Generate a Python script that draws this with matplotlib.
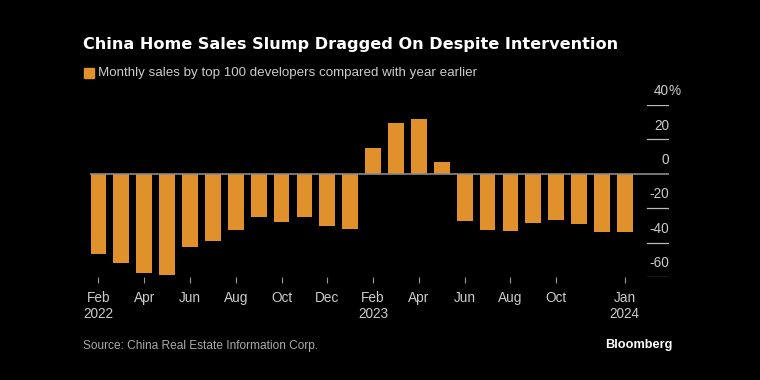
import matplotlib
matplotlib.use("Agg")
import matplotlib.pyplot as plt
import numpy as np

# monthly y/y change in sales, Feb 2022 .. Jan 2024
months = ["Feb 2022", "Mar", "Apr", "May", "Jun", "Jul", "Aug", "Sep", "Oct", "Nov", "Dec",
          "Jan 2023", "Feb 2023", "Mar", "Apr", "May", "Jun", "Jul", "Aug", "Sep", "Oct", "Nov",
          "Dec", "Jan 2024"]
sales_yoy = [-46.5, -52.0, -57.6, -58.8, -42.3, -39.2, -32.5, -24.9, -28.0, -24.9, -30.1, -31.9,
             15.0, 29.4, 31.7, 7.0, -27.4, -32.7, -33.4, -28.8, -27.0, -29.2, -34.0, -33.6]
tick_idx = [0, 2, 4, 6, 8, 10, 12, 14, 16, 18, 20, 23]
tick_labels = ["Feb\n2022", "Apr", "Jun", "Aug", "Oct", "Dec", "Feb\n2023", "Apr", "Jun",
               "Aug", "Oct", "Jan\n2024"]
y_ticks = [40, 20, 0, -20, -40, -60]

BG = "black"
ORANGE = "#E0912B"
SANS = ["Liberation Sans", "DejaVu Sans"]
W, H = 760, 380

fig = plt.figure(figsize=(7.6, 3.8), dpi=100, facecolor=BG)
# axes placed in pixels: left 90, right 669, top 105 (40%), bottom 277 (-60%)
ax = fig.add_axes([90 / W, (H - 277) / H, (669 - 90) / W, (277 - 105) / H])
ax.set_facecolor(BG)

x = np.arange(len(sales_yoy))
ax.bar(x, sales_yoy, width=0.69, color=ORANGE, zorder=2)
ax.set_xlim(-0.37, 24.93)
ax.set_ylim(-60, 40)

ax.axhline(0, color="#8a8a8a", lw=1.2, zorder=3)
gx0 = (647 - 90) / (669 - 90)
for v in y_ticks:
    if v != 0:
        ax.axhline(v, xmin=gx0, xmax=1, color="#bbbbbb", lw=0.9, zorder=1)
    ax.text(24.93, v + 4, str(v), ha="right", va="bottom", color="#cccccc",
            fontsize=9.8, family=SANS)
ax.text(24.90, 44, "%", ha="left", va="bottom", color="#cccccc", fontsize=9.8, family=SANS)

for s in ax.spines.values():
    s.set_visible(False)
ax.set_yticks([])
ax.set_xticks(tick_idx)
ax.set_xticklabels(tick_labels, family=SANS)
ax.tick_params(axis="x", colors="#cccccc", labelsize=9.8, length=4, width=0.8, pad=6)
ax.tick_params(axis="x", color="#999999")

fig.text(83 / W, 1 - 45 / H, "China Home Sales Slump Dragged On Despite Intervention",
         color="white", fontsize=11.6, fontweight="bold", va="center", ha="left")
fig.patches.append(plt.Rectangle((84 / W, 1 - 78 / H), 10 / W, 10 / H, color=ORANGE,
                                 transform=fig.transFigure, figure=fig))
fig.text(98 / W, 1 - 73 / H, "Monthly sales by top 100 developers compared with year earlier",
         color="#cccccc", fontsize=9.6, va="center", ha="left", family=SANS)
fig.text(83 / W, 1 - 346 / H, "Source: China Real Estate Information Corp.",
         color="#aaaaaa", fontsize=8.6, va="center", ha="left", family=SANS)
fig.text(672 / W, 1 - 345 / H, "Bloomberg", color="white", fontsize=9.2,
         fontweight="bold", va="center", ha="right", family=SANS)

fig.savefig("out.png", dpi=100, facecolor=BG)
